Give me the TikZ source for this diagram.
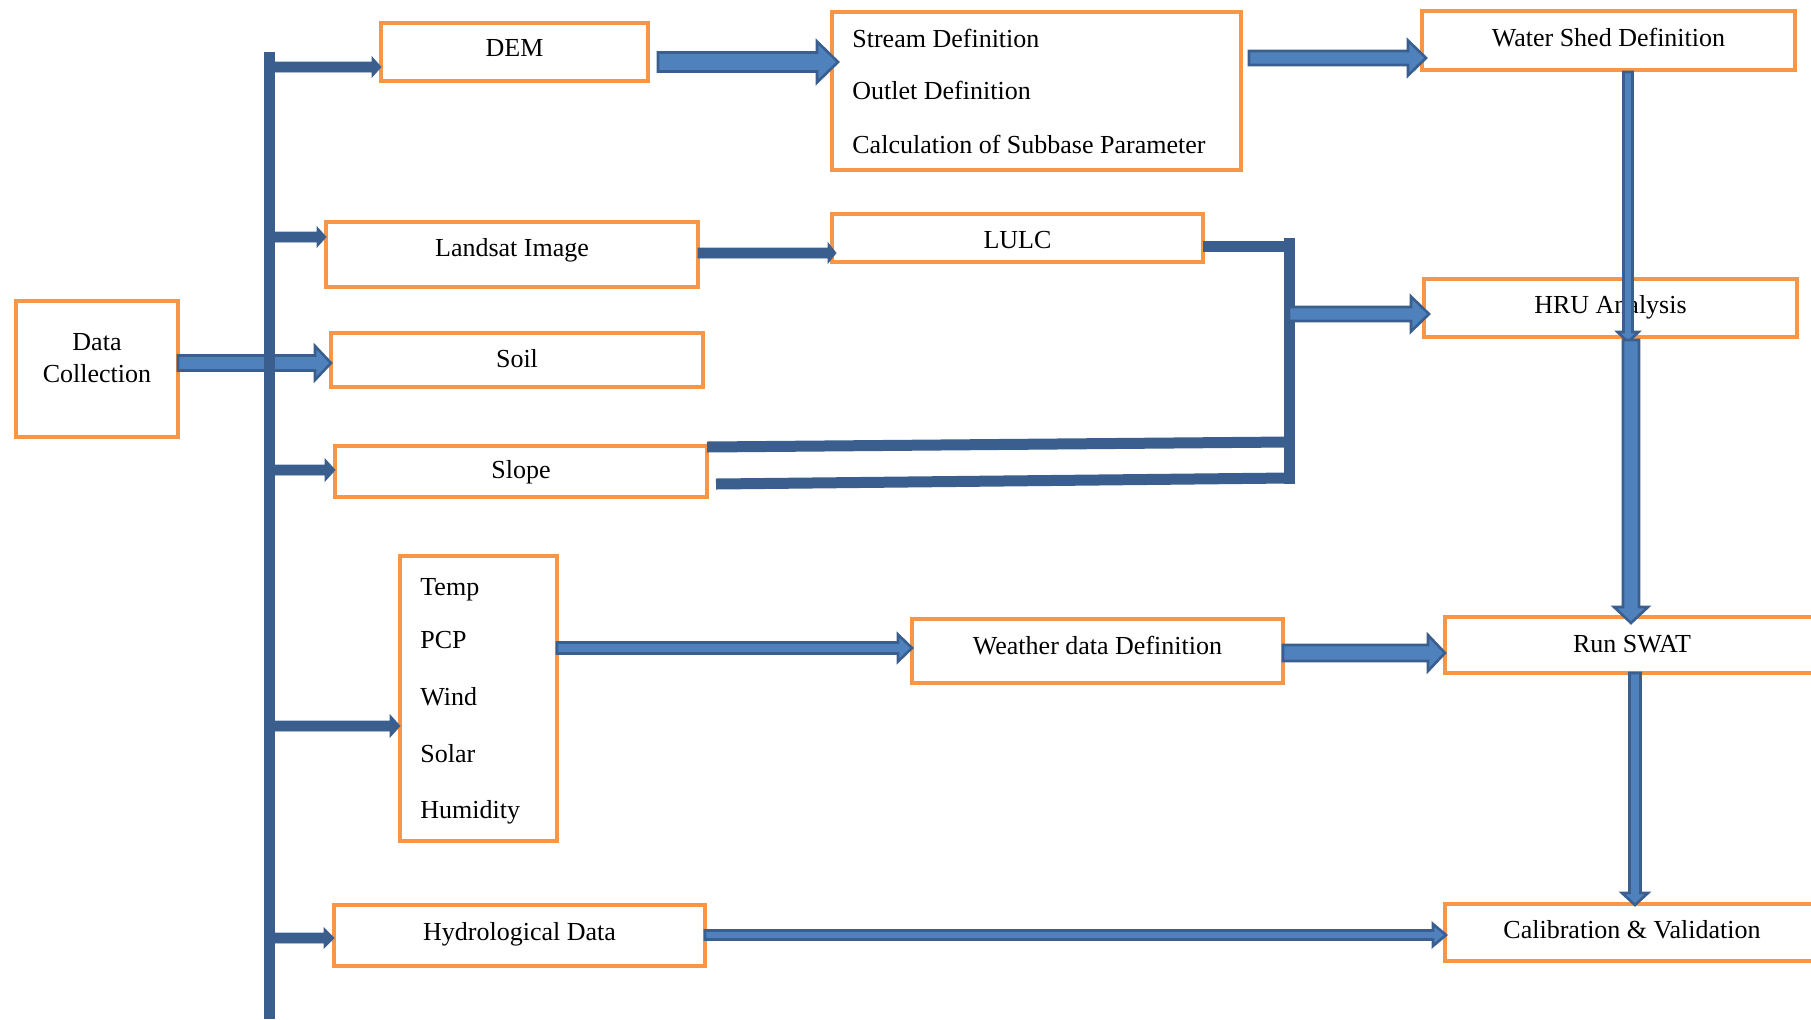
\documentclass[tikz,border=0pt]{standalone}
\usepackage{fontspec}
\setmainfont{Liberation Serif}
\usetikzlibrary{calc}
\definecolor{boxline}{HTML}{F79646}
\definecolor{arrdark}{HTML}{3A5F8E}
\definecolor{arrfill}{HTML}{4F81BD}

% horizontal block arrow: [style]{from}{tip}{half shaft}{half head}{head length}
\newcommand\harr[6][blk]{%
  \draw[#1] ($(#2)+(0,#4)$) -- ($(#3)+(-#6,#4)$) -- ($(#3)+(-#6,#5)$) -- (#3)
    -- ($(#3)+(-#6,-#5)$) -- ($(#3)+(-#6,-#4)$) -- ($(#2)+(0,-#4)$) -- cycle;}
% downward block arrow: [style]{from}{tip}{half shaft}{half head}{head length}
\newcommand\varr[6][blk]{%
  \draw[#1] ($(#2)+(#4,0)$) -- ($(#3)+(#4,-#6)$) -- ($(#3)+(#5,-#6)$) -- (#3)
    -- ($(#3)+(-#5,-#6)$) -- ($(#3)+(-#4,-#6)$) -- ($(#2)+(-#4,0)$) -- cycle;}

\begin{document}
\begin{tikzpicture}[x=0.5pt,y=-0.5pt,
  box/.style={draw=boxline, line width=2.1pt, fill=white, outer sep=0pt, inner sep=0pt},
  lbl/.style={inner sep=0pt, align=center, font=\fontsize{13}{16}\selectfont},
  item/.style={anchor=base west, inner sep=0pt, font=\fontsize{13}{16}\selectfont},
  blk/.style={draw=arrdark, fill=arrfill, line width=1.3pt, line join=miter},
  conn/.style={draw=arrdark, fill=arrdark, line width=0.4pt, line join=miter},
  bar/.style={draw=arrdark, line width=5.5pt}]
\useasboundingbox (0,0) rectangle (1811,1019);

% boxes
\node[box, minimum width=81pt,    minimum height=68pt]   (dc)      at (97,369)     {};
\node[box, minimum width=133.5pt, minimum height=29pt]   (dem)     at (514.5,52)   {};
\node[box, minimum width=204.5pt, minimum height=79pt]   (stream)  at (1036.5,91)  {};
\node[box, minimum width=186.5pt, minimum height=29.5pt] (ws)      at (1608.5,40.5){};
\node[box, minimum width=186pt,   minimum height=32.5pt] (landsat) at (512,254.5)  {};
\node[box, minimum width=185.5pt, minimum height=24pt]   (lulc)    at (1017.5,238) {};
\node[box, minimum width=186.5pt, minimum height=29pt]   (hru)     at (1610.5,308) {};
\node[box, minimum width=186pt,   minimum height=27pt]   (soil)    at (517,360)    {};
\node[box, minimum width=186pt,   minimum height=25.5pt] (slope)   at (521,471.5)  {};
\node[box, minimum width=78.5pt,  minimum height=142.5pt](wx)      at (478.5,698.5){};
\node[box, minimum width=185.5pt, minimum height=32pt]   (weather) at (1097.5,651) {};
\node[box, minimum width=187pt,   minimum height=28pt]   (run)     at (1632,645)   {};
\node[box, minimum width=185.5pt, minimum height=30.5pt] (hydro)   at (519.5,935.5){};
\node[box, minimum width=187pt,   minimum height=28.5pt] (calib)   at (1632,932.5) {};

% box labels
\node[lbl] (dct)      at (97,358)     {Data\\Collection};
\node[lbl] (demt)     at (514.5,48)   {DEM};
\node[lbl] (wst)      at (1608.5,38)  {Water Shed Definition};
\node[lbl] (landsatt) at (512,250)    {Landsat Image};
\node[lbl] (lulct)    at (1017.5,240) {LULC};
\node[lbl] (hrut)     at (1610.5,307) {HRU Analysis};
\node[lbl] (soilt)    at (517,359)    {Soil};
\node[lbl] (slopet)   at (521,472)    {Slope};
\node[lbl] (weathert) at (1097.5,646) {Weather data Definition};
\node[lbl] (runt)     at (1632,644)   {Run SWAT};
\node[lbl] (hydrot)   at (519.5,934)  {Hydrological Data};
\node[lbl] (calibt)   at (1632,930)   {Calibration \& Validation};

% list entries
\node[item] (st1) at (852,47)  {Stream Definition};
\node[item] (st2) at (852,99)  {Outlet Definition};
\node[item] (st3) at (852,153) {Calculation of Subbase Parameter};
\node[item] (w1) at (420,595) {Temp};
\node[item] (w2) at (420,648) {PCP};
\node[item] (w3) at (420,705) {Wind};
\node[item] (w4) at (420,762) {Solar};
\node[item] (w5) at (420,818) {Humidity};

% data collection feed into the trunk
\coordinate (d1) at (dc.east |- 0,363);
\coordinate (d1e) at (soil.west |- d1);
\harr{d1}{d1e}{7.5}{17}{16}

% trunk
\coordinate (trtop) at (269,52);
\coordinate (trbot) at (269,1019);
\draw[bar] (trtop) -- (trbot);

% branches from the trunk
\coordinate (b1) at (269,67);  \coordinate (b1e) at (dem.west |- b1);
\coordinate (b2) at (269,237); \coordinate (b2e) at (landsat.west |- b2);
\coordinate (b3) at (269,470); \coordinate (b3e) at (slope.west |- b3);
\coordinate (b4) at (269,726); \coordinate (b4e) at (wx.west |- b4);
\coordinate (b5) at (269,938); \coordinate (b5e) at (hydro.west |- b5);
\harr[conn]{b1}{b1e}{5}{10}{9}
\harr[conn]{b2}{b2e}{5}{10}{9}
\harr[conn]{b3}{b3e}{5}{11}{10}
\harr[conn]{b4}{b4e}{5}{11}{10}
\harr[conn]{b5}{b5e}{5}{10}{10}

% landsat to LULC
\coordinate (l1) at (landsat.east |- 0,253);
\coordinate (l1e) at (836,253);
\harr[conn]{l1}{l1e}{5}{10}{8}

% LULC / slope junction
\coordinate (j1) at (1289,246);
\coordinate (jtop) at (1289,238);
\coordinate (jbot) at (1289,484);
\coordinate (s1a) at (707,447);  \coordinate (s1b) at (1289,442);
\coordinate (s2a) at (716,484);  \coordinate (s2b) at (1289,478);
\draw[bar] (lulc.east |- j1) -- (j1);
\draw[bar] (jtop) -- (jbot);
\draw[bar] (s1a) -- (s1b);
\draw[bar] (s2a) -- (s2b);

% DEM processing chain
\coordinate (e1) at (658,62);   \coordinate (e1e) at (838,62);
\harr{e1}{e1e}{9.5}{20.5}{21}
\coordinate (e2) at (1249,58); \coordinate (e2e) at (1426,58);
\harr{e2}{e2e}{7}{17.5}{18}
\coordinate (e3) at (1289,314); \coordinate (e3e) at (1429,314);
\harr{e3}{e3e}{7}{17.5}{18}

% vertical chain on the right
\coordinate (v1) at (1628,72);  \coordinate (v1e) at (1628,342);
\varr{v1}{v1e}{4.5}{10.5}{10}
\coordinate (v2) at (1631,340); \coordinate (v2e) at (1631,623);
\varr{v2}{v2e}{8}{17}{16}
\coordinate (v3) at (1635,673); \coordinate (v3e) at (1635,905);
\varr{v3}{v3e}{5.5}{13}{12}

% weather and hydrology
\coordinate (h1) at (wx.east |- 0,648);     \coordinate (h1e) at (weather.west |- h1);
\harr{h1}{h1e}{5.5}{13.5}{14}
\coordinate (h2) at (weather.east |- 0,653); \coordinate (h2e) at (1445,653);
\harr{h2}{h2e}{8}{18}{17}
\coordinate (h3) at (hydro.east |- 0,935);   \coordinate (h3e) at (1446,935);
\harr{h3}{h3e}{4.5}{11}{13}
\end{tikzpicture}
\end{document}
